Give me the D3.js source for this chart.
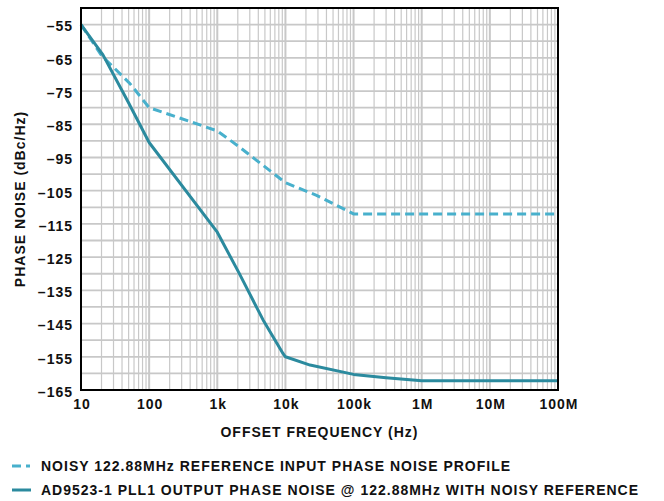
<!DOCTYPE html>
<html>
<head>
<meta charset="utf-8">
<script src="https://cdn.jsdelivr.net/npm/d3@7"></script>
<style>
  html, body { margin: 0; padding: 0; background: #fff; }
  text { font-family: "Liberation Sans", Arial, Helvetica, sans-serif; font-weight: bold; fill: #111; letter-spacing: 1px; }
</style>
</head>
<body>
<svg id="chart" width="664" height="501"></svg>
<script>
// ---- data ----
const xTickValues = [10, 100, 1e3, 1e4, 1e5, 1e6, 1e7, 1e8];
const xTickLabels = ["10", "100", "1k", "10k", "100k", "1M", "10M", "100M"];
const yTickValues = [-55, -65, -75, -85, -95, -105, -115, -125, -135, -145, -155, -165];

const refFreq  = [10, 20, 52, 100, 556, 1000, 2100, 10000, 28600, 78700, 100000, 1e8];
const refNoise = [-55, -64.3, -72.7, -80, -85.2, -87, -91.8, -102.6, -106.4, -110.9, -112, -112];

const pllFreq  = [10, 21, 49, 100, 1000, 2100, 4700, 9200, 10000, 23000, 100000, 300000, 1000000, 1e8];
const pllNoise = [-55, -64.1, -78.2, -90.5, -117.5, -129.9, -143.9, -154, -155, -157.5, -160.3, -161.3, -162.2, -162.2];

const legendLabels = [
  "NOISY 122.88MHz REFERENCE INPUT PHASE NOISE PROFILE",
  "AD9523-1 PLL1 OUTPUT PHASE NOISE @ 122.88MHz WITH NOISY REFERENCE"
];

// ---- layout ----
const svg = d3.select("#chart");
const pL = 81, pT = 8, pR = 558, pB = 390;
const x = d3.scaleLog().domain([10, 1e8]).range([pL, pR]);
const y = d3.scaleLinear().domain([-165, -50]).range([pB, pT]);

const colRef = "#48b0cc";
const colPll = "#2b8a9e";
const gridCol = "#c8c8c8";

// grid
const g = svg.append("g");
const minor = [];
for (let d = 10; d < 1e8; d *= 10) for (let k = 2; k <= 9; k++) minor.push(d * k);
g.selectAll("line.vminor").data(minor).enter().append("line")
  .attr("x1", d => x(d)).attr("x2", d => x(d)).attr("y1", pT).attr("y2", pB)
  .attr("stroke", gridCol).attr("stroke-width", 1.2);
g.selectAll("line.vmajor").data(xTickValues).enter().append("line")
  .attr("x1", d => x(d)).attr("x2", d => x(d)).attr("y1", pT).attr("y2", pB)
  .attr("stroke", gridCol).attr("stroke-width", 2);
const hLines = d3.range(-160, -50, 5);
g.selectAll("line.h").data(hLines).enter().append("line")
  .attr("x1", pL).attr("x2", pR).attr("y1", d => y(d)).attr("y2", d => y(d))
  .attr("stroke", gridCol).attr("stroke-width", 1.8);

// lines
const line = d3.line().x(d => x(d[0])).y(d => y(d[1]));
svg.append("path").datum(refFreq.map((f, i) => [f, refNoise[i]]))
  .attr("d", line).attr("fill", "none").attr("stroke", colRef)
  .attr("stroke-width", 3).attr("stroke-dasharray", "9,5");
svg.append("path").datum(pllFreq.map((f, i) => [f, pllNoise[i]]))
  .attr("d", line).attr("fill", "none").attr("stroke", colPll)
  .attr("stroke-width", 3).attr("stroke-linejoin", "round");

// frame
svg.append("rect").attr("x", pL).attr("y", pT).attr("width", pR - pL).attr("height", pB - pT)
  .attr("fill", "none").attr("stroke", "#000").attr("stroke-width", 2);

// axes
const xAxis = d3.axisBottom(x).tickValues(xTickValues).tickFormat((d, i) => xTickLabels[i]).tickSize(0).tickPadding(9);
const xa = svg.append("g").attr("transform", `translate(0,${pB})`).call(xAxis);
xa.select(".domain").remove();
xa.selectAll("text").style("font-size", "14px").style("font-family", null).attr("fill", "#111").attr("dx", "0.5px");

const yAxis = d3.axisLeft(y).tickValues(yTickValues).tickFormat(d => "\u2013" + Math.abs(d)).tickSize(0).tickPadding(8);
const ya = svg.append("g").attr("transform", `translate(${pL},0)`).call(yAxis);
ya.select(".domain").remove();
ya.selectAll("text").style("font-size", "14px").style("font-family", null).attr("fill", "#111").attr("dy", "0.45em");

svg.append("text").attr("x", (pL + pR) / 2).attr("y", 437).attr("text-anchor", "middle")
  .style("font-size", "14px").text("OFFSET FREQUENCY (Hz)");
svg.append("text").attr("transform", `translate(25,${(pT + pB) / 2}) rotate(-90)`).attr("text-anchor", "middle")
  .style("font-size", "14px").text("PHASE NOISE (dBc/Hz)");

// legend
const lg = svg.append("g");
const legY = [466, 490];
lg.append("line").attr("x1", 12).attr("x2", 30).attr("y1", legY[0]).attr("y2", legY[0])
  .attr("stroke", colRef).attr("stroke-width", 3).attr("stroke-dasharray", "9,5");
lg.append("line").attr("x1", 12).attr("x2", 31).attr("y1", legY[1]).attr("y2", legY[1])
  .attr("stroke", colPll).attr("stroke-width", 3);
lg.selectAll("text.leg").data(legendLabels).enter().append("text")
  .attr("x", 41).attr("y", (d, i) => legY[i] + 5).style("font-size", "14px").text(d => d);
</script>
</body>
</html>
